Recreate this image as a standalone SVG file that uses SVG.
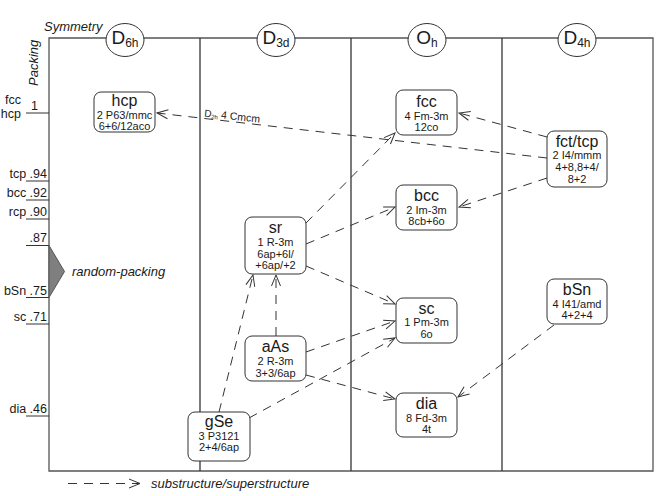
<svg xmlns="http://www.w3.org/2000/svg" width="672" height="496" viewBox="0 0 672 496">
<style>
text{font-family:"Liberation Sans",Arial,sans-serif;fill:#1a1a1a}
.frame{fill:none;stroke:#555;stroke-width:1.3}
.div{stroke:#333;stroke-width:1.3}
.tick{stroke:#333;stroke-width:1}
.sym{fill:#fff;stroke:#333;stroke-width:1}
.box{fill:#fff;stroke:#333;stroke-width:1}
.n{font-size:16px;text-anchor:middle}
.s{font-size:11px;text-anchor:middle}
.ax{font-size:12.5px;text-anchor:end}
.it{font-style:italic;font-size:13px}
.con{fill:none;stroke:#333;stroke-width:1;stroke-dasharray:9,7;marker-end:url(#arr)}
</style>
<defs>
<marker id="arr" viewBox="-12 -6 14 12" refX="0" refY="0" markerWidth="14" markerHeight="12" markerUnits="userSpaceOnUse" orient="auto">
<path d="M-11,-4.5 L0,0 L-11,4.5" fill="none" stroke="#333" stroke-width="1" stroke-dasharray="none"/>
</marker>
</defs>
<rect width="672" height="496" fill="#fff"/>
<g id="frame">
<path class="frame" d="M49,471 L49,38 L653,38 L653,471 Z"/>
<line class="div" x1="200" y1="38" x2="200" y2="471"/>
<line class="div" x1="351" y1="38" x2="351" y2="471"/>
<line class="div" x1="502" y1="38" x2="502" y2="471"/>
<text class="it" x="44" y="31">Symmetry</text>
<text class="it" transform="translate(38,86) rotate(-90)">Packing</text>
</g>
<g id="symmetry">
<g id="sym-d6h"><ellipse class="sym" cx="125" cy="40" rx="19" ry="16.5"/><text x="125" y="43.5" font-size="19" text-anchor="middle">D<tspan font-size="12" dy="3">6h</tspan></text></g>
<g id="sym-d3d"><ellipse class="sym" cx="276" cy="40" rx="19" ry="16.5"/><text x="276" y="43.5" font-size="19" text-anchor="middle">D<tspan font-size="12" dy="3">3d</tspan></text></g>
<g id="sym-oh"><ellipse class="sym" cx="427" cy="40" rx="19" ry="16.5"/><text x="427" y="43.5" font-size="19" text-anchor="middle">O<tspan font-size="12" dy="3">h</tspan></text></g>
<g id="sym-d4h"><ellipse class="sym" cx="577" cy="40" rx="19" ry="16.5"/><text x="577" y="43.5" font-size="19" text-anchor="middle">D<tspan font-size="12" dy="3">4h</tspan></text></g>
</g>
<g id="axis">
<line class="tick" x1="26" y1="113" x2="49" y2="113"/>
<text class="ax" x="21" y="104">fcc</text>
<text class="ax" x="21" y="117.5">hcp</text>
<text x="31" y="110" font-size="12.5">1</text>
<line class="tick" x1="26" y1="181" x2="49" y2="181"/>
<text class="ax" x="47" y="178">tcp .94</text>
<line class="tick" x1="26" y1="200" x2="49" y2="200"/>
<text class="ax" x="47" y="196.5">bcc .92</text>
<line class="tick" x1="26" y1="219" x2="49" y2="219"/>
<text class="ax" x="47" y="215.5">rcp .90</text>
<line class="tick" x1="26" y1="245.5" x2="49" y2="245.5"/>
<text class="ax" x="47" y="242">.87</text>
<line class="tick" x1="26" y1="297.5" x2="49" y2="297.5"/>
<text class="ax" x="47" y="295">bSn .75</text>
<line class="tick" x1="26" y1="324" x2="49" y2="324"/>
<text class="ax" x="47" y="321">sc .71</text>
<line class="tick" x1="26" y1="416" x2="49" y2="416"/>
<text class="ax" x="47" y="413">dia .46</text>
</g>
<g id="random-packing">
<polygon points="49,245.5 64.5,271.5 49,297.5" fill="#7f7f7f" stroke="#555" stroke-width="1"/>
<text class="it" x="72" y="276">random-packing</text>
</g>
<g id="connectors">
<path class="con" d="M547,158 L157,113"/>
<path class="con" d="M547,137 L459,113"/>
<path class="con" d="M547,178 L459,207"/>
<path class="con" d="M306,223 L395,133"/>
<path class="con" d="M306,244 L395,207"/>
<path class="con" d="M306,266 L395,304"/>
<path class="con" d="M276,336 L276,275"/>
<path class="con" d="M219,412 L253,275"/>
<path class="con" d="M306,352 L395,321"/>
<path class="con" d="M249,418 L395,338"/>
<path class="con" d="M306,375 L395,399"/>
<path class="con" d="M554,325 L458,397"/>
<text transform="translate(204,116.5) rotate(6.3)" font-size="10">D<tspan font-size="6" dy="1.5">2h</tspan><tspan font-size="10.5" dy="-1.5"> 4 Cmcm</tspan></text>
</g>
<g id="node-hcp"><rect class="box" x="94" y="92" width="61" height="40" rx="7"/><text class="n" x="124.5" y="106">hcp</text><text class="s" x="124.5" y="118.5">2 P63/mmc</text><text class="s" x="124.5" y="130">6+6/12aco</text></g>
<g id="node-fcc"><rect class="box" x="396" y="90" width="61" height="45" rx="7"/><text class="n" x="426.5" y="106.5">fcc</text><text class="s" x="426.5" y="119.5">4 Fm-3m</text><text class="s" x="426.5" y="131">12co</text></g>
<g id="node-bcc"><rect class="box" x="396" y="185" width="61" height="45" rx="7"/><text class="n" x="426.5" y="201">bcc</text><text class="s" x="426.5" y="213.5">2 Im-3m</text><text class="s" x="426.5" y="225">8cb+6o</text></g>
<g id="node-sc"><rect class="box" x="396" y="298" width="61" height="45" rx="7"/><text class="n" x="426.5" y="313.5">sc</text><text class="s" x="426.5" y="326">1 Pm-3m</text><text class="s" x="426.5" y="337.5">6o</text></g>
<g id="node-dia"><rect class="box" x="396" y="393" width="61" height="44" rx="7"/><text class="n" x="426.5" y="409">dia</text><text class="s" x="426.5" y="421.5">8 Fd-3m</text><text class="s" x="426.5" y="433">4t</text></g>
<g id="node-sr"><rect class="box" x="245" y="217" width="61" height="57" rx="7"/><text class="n" x="275.5" y="232.5">sr</text><text class="s" x="275.5" y="246">1 R-3m</text><text class="s" x="275.5" y="257.5">6ap+6l/</text><text class="s" x="275.5" y="269">+6ap/+2</text></g>
<g id="node-aAs"><rect class="box" x="245" y="336" width="61" height="45" rx="7"/><text class="n" x="275.5" y="351.5">aAs</text><text class="s" x="275.5" y="365">2 R-3m</text><text class="s" x="275.5" y="376.5">3+3/6ap</text></g>
<g id="node-gSe"><rect class="box" x="188" y="412" width="62" height="49" rx="7"/><text class="n" x="219" y="426.5">gSe</text><text class="s" x="219" y="439.5">3 P3121</text><text class="s" x="219" y="451">2+4/6ap</text></g>
<g id="node-fcttcp"><rect class="box" x="547" y="131" width="60" height="56" rx="7"/><text class="n" x="577" y="146.5">fct/tcp</text><text class="s" x="577" y="159">2 I4/mmm</text><text class="s" x="577" y="171">4+8,8+4/</text><text class="s" x="577" y="182.5">8+2</text></g>
<g id="node-bSn"><rect class="box" x="547" y="279" width="60" height="45" rx="7"/><text class="n" x="577" y="295">bSn</text><text class="s" x="577" y="307.5">4 I41/amd</text><text class="s" x="577" y="319">4+2+4</text></g>
<g id="legend">
<path class="con" d="M68,483.5 L140,483.5"/>
<text class="it" x="151" y="488">substructure/superstructure</text>
</g>
</svg>
